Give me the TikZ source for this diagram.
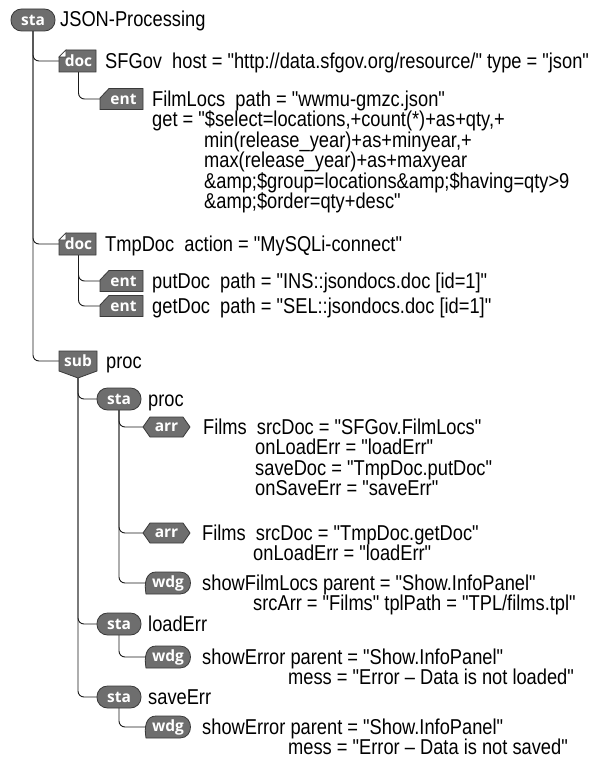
\documentclass[tikz,border=0pt]{standalone}
\usepackage{fontspec}
\setmainfont{Liberation Sans}[FakeStretch=0.85, Ligatures=TeXOff]
\newfontfamily\badgefont{Open Sans}
\usetikzlibrary{calc}
\pgfdeclarelayer{bg}
\pgfsetlayers{bg,main}
\definecolor{bfill}{HTML}{6E6E6E}
\definecolor{bline}{HTML}{3A3A3A}
\definecolor{wirec}{HTML}{1A1A1A}
\tikzset{
  badgeshape/.style={fill=bfill, draw=bline, line width=0.8pt},
  blabel/.style={inner sep=0pt, text=white, font=\badgefont\bfseries\fontsize{15.5}{15.5}\selectfont},
  txt/.style={anchor=base west, inner sep=0pt, font=\fontsize{21.5}{20}\selectfont},
  wire/.style={draw=wirec, line width=0.9pt, rounded corners=6pt},
}
% badge macros: #1 node name, #2 centre
\newcommand\Bsta[2]{%
  \filldraw[badgeshape, rounded corners=10.5pt] ($(#2)+(-22,-11)$) rectangle ($(#2)+(22,11)$);
  \node[blabel, minimum width=44pt, minimum height=22pt] (#1) at (#2) {sta};}
\newcommand\Bdoc[2]{%
  \filldraw[badgeshape] ($(#2)+(-11.5,-11)$) -- ($(#2)+(18.5,-11)$) -- ($(#2)+(18.5,11)$) -- ($(#2)+(-18.5,11)$) -- ($(#2)+(-18.5,-4)$) -- cycle;
  \filldraw[fill=white, draw=bline, line width=0.6pt] ($(#2)+(-11.5,-11)$) -- ($(#2)+(-18.5,-4)$) -- ($(#2)+(-11.5,-4)$) -- cycle;
  \node[blabel, minimum width=37pt, minimum height=22pt] (#1) at ($(#2)+(1,0)$) {doc};}
\newcommand\Bent[2]{%
  \filldraw[badgeshape] ($(#2)+(-12.5,-10.5)$) -- ($(#2)+(21.5,-10.5)$) -- ($(#2)+(21.5,10.5)$) -- ($(#2)+(-21.5,10.5)$) -- ($(#2)+(-21.5,-1)$) -- cycle;
  \node[blabel, minimum width=43pt, minimum height=21pt] (#1) at ($(#2)+(2,0)$) {ent};}
\newcommand\Bsub[2]{%
  \filldraw[badgeshape] ($(#2)+(-19,-10)$) -- ($(#2)+(19,-10)$) -- ($(#2)+(19,10)$) -- ($(#2)+(0,17)$) -- ($(#2)+(-19,10)$) -- cycle;
  \node[blabel, minimum width=38pt, minimum height=20pt] (#1) at (#2) {sub};
  \coordinate (#1-tip) at ($(#2)+(0,17)$);}
\newcommand\Barr[2]{%
  \filldraw[badgeshape] ($(#2)+(-16.5,-10)$) -- ($(#2)+(16.5,-10)$) -- ($(#2)+(23.5,0)$) -- ($(#2)+(16.5,10)$) -- ($(#2)+(-16.5,10)$) -- ($(#2)+(-23.5,0)$) -- cycle;
  \node[blabel, minimum width=47pt, minimum height=20pt] (#1) at (#2) {arr};}
\newcommand\Bwdg[2]{%
  \filldraw[badgeshape] ($(#2)+(-12,-11)$) .. controls ($(#2)+(-22,-11)$) and ($(#2)+(-24,0)$) .. ($(#2)+(-22,11)$) -- ($(#2)+(12,11)$) .. controls ($(#2)+(26,11)$) and ($(#2)+(26,-11)$) .. ($(#2)+(12,-11)$) -- cycle;
  \node[blabel, minimum width=46pt, minimum height=22pt] (#1) at (#2) {wdg};}
\begin{document}
\begin{tikzpicture}[x=1pt,y=-1pt]
\path[use as bounding box] (0,0) rectangle (599,760);
% badges
\Bsta{root}{33,20}
\Bdoc{d1}{77.5,61}
\Bent{e1}{121.5,99}
\Bdoc{d2}{77.5,244}
\Bent{e2}{121.5,281}
\Bent{e3}{121.5,306}
\Bsub{sb}{78,361}
\Bsta{s1}{119,399}
\Barr{a1}{166.5,427}
\Barr{a2}{166.5,533}
\Bwdg{w1}{168,583}
\Bsta{s2}{119,624}
\Bwdg{w2}{168,657}
\Bsta{s3}{119,697}
\Bwdg{w3}{168,727}
% texts
\node[txt] (t0) at (60,27) {JSON-Processing};
\node[txt] (t1) at (105,68) {SFGov\ \ host = "http://data.sfgov.org/resource/" type = "json"};
\node[txt] (t2) at (152,106) {FilmLocs\ \ path = "wwmu-gmzc.json"};
\node[txt] (t3) at (152,126.5) {get = "\$select=locations,+count(*)+as+qty,+};
\node[txt] (t4) at (204,147) {min(release\_year)+as+minyear,+};
\node[txt] (t5) at (204,167.5) {max(release\_year)+as+maxyear};
\node[txt] (t6) at (204,188) {\&amp;\$group=locations\&amp;\$having=qty>9};
\node[txt] (t7) at (204,208.5) {\&amp;\$order=qty+desc"};
\node[txt] (t8) at (105,251) {TmpDoc\ \ action = "MySQLi-connect"};
\node[txt] (t9) at (152,288) {putDoc\ \ path = "INS::jsondocs.doc [id=1]"};
\node[txt] (t10) at (152,313) {getDoc\ \ path = "SEL::jsondocs.doc [id=1]"};
\node[txt] (t11) at (106,368) {proc};
\node[txt] (t12) at (148,406) {proc};
\node[txt] (t13) at (203,434) {Films\ \ srcDoc = "SFGov.FilmLocs"};
\node[txt] (t14) at (255,454.5) {onLoadErr = "loadErr"};
\node[txt] (t15) at (255,475) {saveDoc = "TmpDoc.putDoc"};
\node[txt] (t16) at (255,495.5) {onSaveErr = "saveErr"};
\node[txt] (t17) at (202,540) {Films\ \ srcDoc = "TmpDoc.getDoc"};
\node[txt] (t18) at (253,560.5) {onLoadErr = "loadErr"};
\node[txt] (t19) at (202,590) {showFilmLocs parent = "Show.InfoPanel"};
\node[txt] (t20) at (253,610.5) {srcArr = "Films" tplPath = "TPL/films.tpl"};
\node[txt] (t21) at (148,631) {loadErr};
\node[txt] (t22) at (202,664) {showError parent = "Show.InfoPanel"};
\node[txt] (t23) at (288,684.5) {mess = "Error – Data is not loaded"};
\node[txt] (t24) at (148,704) {saveErr};
\node[txt] (t25) at (202,734) {showError parent = "Show.InfoPanel"};
\node[txt] (t26) at (288,754.5) {mess = "Error – Data is not saved"};
% connectors
\begin{pgfonlayer}{bg}
\draw[wire] (root.south) |- (d1.west);
\draw[wire] (root.south) |- (d2.west);
\draw[wire] (root.south) |- (sb.west);
\draw[wire] (d1.south) |- (e1.west);
\draw[wire] (d2.south) |- (e2.west);
\draw[wire] (d2.south) |- (e3.west);
\draw[wire] (sb-tip) |- (s1.west);
\draw[wire] (sb-tip) |- (s2.west);
\draw[wire] (sb-tip) |- (s3.west);
\draw[wire] (s1.south) |- (a1.west);
\draw[wire] (s1.south) |- (a2.west);
\draw[wire] (s1.south) |- (w1.west);
\draw[wire] (s2.south) |- (w2.west);
\draw[wire] (s3.south) |- (w3.west);
\end{pgfonlayer}
\end{tikzpicture}
\end{document}
